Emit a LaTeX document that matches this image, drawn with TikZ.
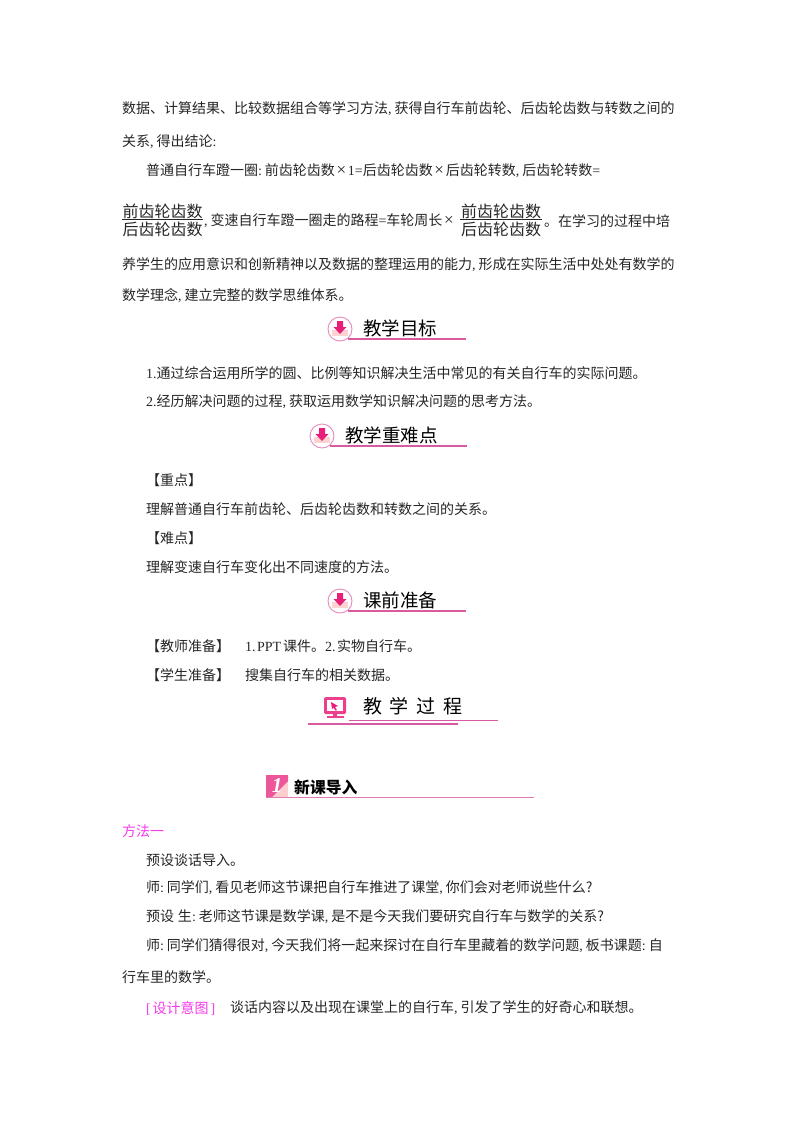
\documentclass[tikz,border=0pt]{standalone}
\usepackage{fontspec}
\setmainfont{Noto Sans CJK SC}
\newfontfamily\lat{Liberation Serif}
\newcommand{\cm}{{\lat ,}\hspace{3bp}}
\newcommand{\co}{{\lat :}\hspace{3bp}}
\newcommand{\eqs}{{\lat =}}
\newcommand{\tms}{\makebox[13bp][c]{\lat\fontsize{17bp}{17bp}\selectfont ×}}
\newcommand{\bodysize}{\fontsize{14bp}{14bp}\selectfont}
\definecolor{hpink}{RGB}{216,90,160}
\definecolor{ipink}{RGB}{232,30,120}
\definecolor{mag}{RGB}{245,60,235}
\tikzset{
  x=1bp,y=-1bp,
  txt/.style={anchor=west,inner sep=0pt,outer sep=0pt,text=black!85,font=\bodysize},
  magtxt/.style={txt,text=mag},
  fracn/.style={anchor=center,inner sep=0pt,text=black!85,font=\fontsize{16bp}{16bp}\selectfont},
  head/.style={anchor=west,inner sep=0pt,text=black,font=\fontsize{18.5bp}{18.5bp}\selectfont},
  rulep/.style={draw=hpink,line width=1.1bp},
  tinyrule/.style={draw=black!85,line width=0.9bp}
}
\newcommand{\iconhead}[5]{% name, x of circle centre, y of circle centre, rule length, text
  \node[circle,draw=hpink!70,line width=0.9bp,minimum size=24bp,inner sep=0pt,fill=white] (#1c) at (#2,#3) {};
  \fill[pink!70!white] (#2-8,#3+1) rectangle (#2+8,#3+7);
  \fill[ipink] (#2-3,#3-8) -- (#2+3,#3-8) -- (#2+3,#3-2) -- (#2+6.5,#3-2) -- (#2,#3+5) -- (#2-6.5,#3-2) -- (#2-3,#3-2) -- cycle;
  \coordinate (#1e) at (#2+#4,#3+10);
  \coordinate (#1s) at (#2+8,#3+10);
  \draw[rulep] (#1s) -- (#1e);
  \node[head] (#1t) at (#2+23,#3-1) {#5};
}
\begin{document}
\begin{tikzpicture}
\useasboundingbox[fill=white] (0,0) rectangle (800,1132);
\node[txt] (l1) at (122,109) {数据、计算结果、比较数据组合等学习方法\cm 获得自行车前齿轮、后齿轮齿数与转数之间的};
\node[txt] (l2) at (122,142) {关系\cm 得出结论\co};
\node[txt] (l3) at (146,171) {普通自行车蹬一圈\co 前齿轮齿数\tms{\lat 1}\eqs 后齿轮齿数\tms 后齿轮转数\cm 后齿轮转数\eqs};
\node[fracn] (f1a) at (162.5,211) {前齿轮齿数};
\node[fracn] (f1b) at (162.5,229) {后齿轮齿数};
\draw[tinyrule] (122,219.5) coordinate (f1p) -- (203,219.5) coordinate (f1q);
\node[txt] (l4) at (204,221) {\cm 变速自行车蹬一圈走的路程\eqs 车轮周长\tms};
\node[fracn] (f2a) at (501,211) {前齿轮齿数};
\node[fracn] (f2b) at (501,229) {后齿轮齿数};
\draw[tinyrule] (460,219.5) coordinate (f2p) -- (542,219.5) coordinate (f2q);
\node[txt] (l5) at (544,221) {。在学习的过程中培};
\node[txt] (l6) at (122,265) {养学生的应用意识和创新精神以及数据的整理运用的能力\cm 形成在实际生活中处处有数学的};
\node[txt] (l7) at (122,296) {数学理念\cm 建立完整的数学思维体系。};
\iconhead{h1}{340}{329}{126}{教学目标}
\node[txt] (l8) at (146,373) {{\lat 1.}通过综合运用所学的圆、比例等知识解决生活中常见的有关自行车的实际问题。};
\node[txt] (l9) at (146,402) {{\lat 2.}经历解决问题的过程\cm 获取运用数学知识解决问题的思考方法。};
\iconhead{h2}{322}{436}{145}{教学重难点}
\node[txt] (l10) at (146,480) {【重点】};
\node[txt] (l11) at (146,509) {理解普通自行车前齿轮、后齿轮齿数和转数之间的关系。};
\node[txt] (l12) at (146,538) {【难点】};
\node[txt] (l13) at (146,567) {理解变速自行车变化出不同速度的方法。};
\iconhead{h3}{340}{601}{126}{课前准备}
\node[txt] (l14) at (146,646) {【教师准备】};
\node[txt] (l14b) at (245,646) {{\lat 1.}\hspace{1.5bp}{\lat PPT}\hspace{2bp}课件。{\lat 2.}\hspace{1.5bp}实物自行车。};
\node[txt] (l15) at (146,675) {【学生准备】};
\node[txt] (l15b) at (245,675) {搜集自行车的相关数据。};
% teaching process heading
\fill[rounded corners=1.5bp,ipink!85] (324,697) rectangle (346,714);
\fill[white] (327,700) rectangle (343,711);
\fill[ipink] (331,702) -- (338,706) -- (335,707) -- (337,710) -- (335.5,710.5) -- (333.5,707.5) -- (332,709) -- cycle;
\fill[ipink!85] (333,714) rectangle (337,716);
\fill[ipink!85] (327,716) rectangle (344,718);
\node[anchor=west,inner sep=0pt,text=black,font=\fontsize{19bp}{19bp}\selectfont] (h4t) at (363,706) {教\hspace{7.7bp}学\hspace{7.7bp}过\hspace{7.7bp}程};
\coordinate (h4a) at (349,720); \coordinate (h4b) at (498,720);
\coordinate (h4c) at (308,724); \coordinate (h4d) at (458,724);
\draw[draw=hpink,line width=0.8bp] (h4a) -- (h4b);
\draw[draw=hpink,line width=1.3bp] (h4c) -- (h4d);
% lesson intro heading
\fill[pink!75!white] (266,775) rectangle (288,797);
\fill[ipink!75] (266,775) -- (288,775) -- (288,781) -- (272,797) -- (266,797) -- cycle;
\node[inner sep=0pt,text=white,font=\lat\bfseries\itshape\fontsize{21bp}{21bp}\selectfont] (n1) at (277,786) {1};
\coordinate (h5a) at (266,797.5); \coordinate (h5b) at (534,797.5);
\draw[draw=hpink!80,line width=0.9bp] (h5a) -- (h5b);
\node[anchor=west,inner sep=0pt,text=black,font=\fontsize{15.8bp}{15.8bp}\selectfont\bfseries] (h5t) at (294,787) {新课导入};
\node[magtxt] (l16) at (122,831) {方法一};
\node[txt] (l17) at (146,860) {预设谈话导入。};
\node[txt] (l18) at (146,888) {师\co 同学们\cm 看见老师这节课把自行车推进了课堂\cm 你们会对老师说些什么?};
\node[txt] (l19) at (146,917) {预设\hspace{4bp}生\co 老师这节课是数学课\cm 是不是今天我们要研究自行车与数学的关系?};
\node[txt] (l20) at (146,946) {师\co 同学们猜得很对\cm 今天我们将一起来探讨在自行车里藏着的数学问题\cm 板书课题\co 自};
\node[txt] (l21) at (122,977) {行车里的数学。};
\node[magtxt] (l22) at (146,1008) {{\lat [}\hspace{2bp}设计意图\hspace{2bp}{\lat ]}};
\node[txt] (l23) at (230,1008) {谈话内容以及出现在课堂上的自行车\cm 引发了学生的好奇心和联想。};
\end{tikzpicture}
\end{document}
